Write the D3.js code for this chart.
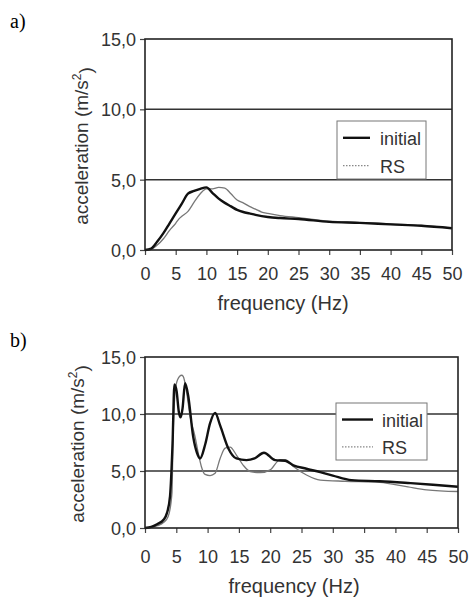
<!DOCTYPE html>
<html>
  <head>
    <meta charset="utf-8" />
    <title>Acceleration spectra</title>
    <script src="https://d3js.org/d3.v7.min.js"></script>
    <style>
      body { margin: 0; background: #fff; }
      svg { font-family: "Liberation Sans", Arial, sans-serif; }
    </style>
  </head>
  <body>
    <svg id="chart" width="472" height="599"></svg>
    <script>
        // frequency (Hz) / acceleration (m/s2)
        var freqInitialA = [0, 1, 2, 3, 4, 5, 6, 7, 8, 9, 10, 11, 12, 13, 14, 15, 16, 17, 18, 20, 22, 25, 30, 35, 40, 45, 50];
        var accInitialA  = [0, 0.1, 0.6, 1.2, 1.9, 2.6, 3.3, 4.0, 4.2, 4.35, 4.45, 4.05, 3.65, 3.35, 3.1, 2.85, 2.7, 2.6, 2.5, 2.35, 2.27, 2.2, 2.0, 1.93, 1.82, 1.72, 1.55];

        var freqRsA = [0, 1, 2, 3, 4, 5, 5.5, 6, 7, 8, 9, 10, 11, 12, 13, 14, 15, 16, 17, 18, 19, 20, 22, 25, 30, 35, 40, 45, 50];
        var accRsA  = [0, 0.05, 0.35, 0.8, 1.4, 1.9, 2.2, 2.4, 2.75, 3.4, 4.0, 4.35, 4.35, 4.45, 4.4, 4.0, 3.55, 3.35, 3.1, 2.9, 2.7, 2.6, 2.45, 2.3, 2.05, 1.95, 1.85, 1.75, 1.55];

        var freqInitialB = [0, 1, 2, 3, 3.5, 4, 4.4, 4.7, 5.05, 5.4, 5.7, 6.0, 6.4, 6.9, 7.7, 8.3, 8.8, 9.6, 10.4, 11.2, 12, 13.3, 14.6, 16.2, 17.5, 19, 20.8, 22.4, 23.7, 25.8, 28, 30, 33, 37.5, 42, 46, 50];
        var accInitialB  = [0, 0.1, 0.35, 0.75, 1.3, 2.8, 7.4, 12.6, 12.0, 10.2, 9.7, 10.5, 12.7, 11.6, 8.0, 6.6, 6.1, 7.3, 9.2, 10.1, 9.0, 7.0, 6.1, 5.95, 6.1, 6.6, 5.95, 5.9, 5.5, 5.2, 4.9, 4.6, 4.2, 4.1, 3.95, 3.8, 3.62];

        var freqRsB = [0, 1, 2, 3, 3.7, 4.3, 4.5, 4.8, 5.2, 5.85, 6.1, 6.6, 7.2, 8, 8.5, 9, 9.6, 10.4, 11.2, 12, 12.8, 13.6, 14.6, 15.7, 16.8, 18.4, 20, 21.6, 22.4, 23.7, 25.8, 28, 32, 37.5, 42, 45, 50];
        var accRsB  = [0, 0.05, 0.2, 0.5, 1.0, 3.0, 8.3, 11.8, 13.0, 13.4, 13.3, 12.1, 9.8, 8.0, 6.6, 5.4, 4.7, 4.6, 4.8, 6.1, 7.0, 7.1, 6.4, 5.5, 4.95, 4.85, 5.1, 6.0, 6.0, 5.4, 4.65, 4.2, 4.1, 4.0, 3.6, 3.35, 3.2];

        var xTicks = [0, 5, 10, 15, 20, 25, 30, 35, 40, 45, 50];
        var yTicks = [0, 5, 10, 15];
        var seriesNames = ["initial", "RS"];

        var svg = d3.select("#chart");
        var fmt = function(d){ return d3.format(".1f")(d).replace(".", ","); };

        function zip(xs, ys) {
            return xs.map(function(x, i){ return {f: x, a: ys[i]}; });
        }

        function drawPanel(cfg) {
            var x = d3.scaleLinear().domain([0, 50]).range([cfg.left, cfg.right]);
            var y = d3.scaleLinear().domain([0, 15]).range([cfg.bottom, cfg.top]);
            var g = svg.append("g");

            g.append("text")
             .attr("x", 10).attr("y", cfg.labelY)
             .style("font-family", "'Liberation Serif', 'Times New Roman', serif")
             .style("font-size", "20px")
             .text(cfg.label);

            // grid lines
            g.selectAll("line.grid").data([5, 10]).enter().append("line")
             .attr("class", "grid")
             .attr("x1", cfg.left).attr("x2", cfg.right)
             .attr("y1", function(d){ return y(d); }).attr("y2", function(d){ return y(d); })
             .attr("stroke", "#333").attr("stroke-width", 1.5);

            // axes
            var xAxis = g.append("g")
             .attr("transform", "translate(0," + cfg.bottom + ")")
             .call(d3.axisBottom(x).tickValues(xTicks).tickSize(5).tickFormat(d3.format("d")));
            var yAxis = g.append("g")
             .attr("transform", "translate(" + cfg.left + ",0)")
             .call(d3.axisLeft(y).tickValues(yTicks).tickSize(5).tickFormat(fmt));
            [xAxis, yAxis].forEach(function(a){
                a.select(".domain").remove();
                a.selectAll("line").attr("stroke", "#444").attr("stroke-width", 1.2);
                a.selectAll("text").attr("fill", "#333")
                 .style("font-size", "18px").style("font-family", "'Liberation Sans', Arial, sans-serif");
            });
            xAxis.selectAll("text").attr("y", 0).attr("dy", null).attr("transform", "translate(0," + (cfg.tickY - cfg.bottom) + ")");
            yAxis.selectAll("text").attr("x", -9).attr("dy", "0.36em");

            var line = d3.line()
             .x(function(d){ return x(d.f); })
             .y(function(d){ return y(d.a); })
             .curve(d3.curveMonotoneX);

            g.append("path").datum(zip(cfg.rsF, cfg.rsA))
             .attr("d", line).attr("fill", "none")
             .attr("stroke", "#777").attr("stroke-width", 1.3);
            g.append("path").datum(zip(cfg.inF, cfg.inA))
             .attr("d", line).attr("fill", "none")
             .attr("stroke", "#111").attr("stroke-width", 2.4);

            // frame
            g.append("rect")
             .attr("x", cfg.left).attr("y", cfg.top)
             .attr("width", cfg.right - cfg.left).attr("height", cfg.bottom - cfg.top)
             .attr("fill", "none").attr("stroke", "#222").attr("stroke-width", 1.6);

            // legend
            var lg = g.append("g").attr("transform", "translate(" + cfg.legX + "," + cfg.legY + ")");
            lg.append("rect").attr("width", cfg.legW).attr("height", cfg.legH)
             .attr("fill", "#fff").attr("stroke", "#777").attr("stroke-width", 1);
            var rowY = [cfg.legH * 0.29, cfg.legH * 0.77];
            seriesNames.forEach(function(name, i){
                lg.append("line").attr("x1", 6).attr("x2", cfg.legW === 89 ? 33 : 37)
                 .attr("y1", rowY[i]).attr("y2", rowY[i])
                 .attr("stroke", i === 0 ? "#111" : "#888")
                 .attr("stroke-width", i === 0 ? 2.4 : 1.3)
                 .attr("stroke-dasharray", i === 0 ? null : "1.5,1.5");
                lg.append("text").attr("x", cfg.legW === 89 ? 43 : 46).attr("y", rowY[i] + 7)
                 .attr("fill", "#333").style("font-size", "18px").text(name);
            });

            // axis titles
            g.append("text")
             .attr("x", cfg.xTitleX).attr("y", cfg.xTitleY)
             .attr("text-anchor", "middle").attr("fill", "#333")
             .style("font-size", "20px").text("frequency (Hz)");

            var yt = g.append("text")
             .attr("transform", "translate(" + cfg.yTitleX + "," + cfg.yTitleMid + ") rotate(-90)")
             .attr("text-anchor", "middle").attr("fill", "#333")
             .style("font-size", "19px");
            yt.append("tspan").text("acceleration (m/s");
            yt.append("tspan").attr("dy", "-0.55em").style("font-size", "12px").text("2");
            yt.append("tspan").attr("dy", "0.55em").text(")");
        }

        drawPanel({
            label: "a)", labelY: 28,
            left: 145, right: 452, top: 39, bottom: 250,
            tickY: 280, xTitleX: 283, xTitleY: 310, yTitleX: 88, yTitleMid: 146,
            legX: 337, legY: 121, legW: 89, legH: 58,
            inF: freqInitialA, inA: accInitialA, rsF: freqRsA, rsA: accRsA
        });

        drawPanel({
            label: "b)", labelY: 347,
            left: 145, right: 458, top: 357, bottom: 528,
            tickY: 563, xTitleX: 294, xTitleY: 593, yTitleX: 84, yTitleMid: 444,
            legX: 336, legY: 403, legW: 91, legH: 57,
            inF: freqInitialB, inA: accInitialB, rsF: freqRsB, rsA: accRsB
        });
    </script>
  </body>
</html>
